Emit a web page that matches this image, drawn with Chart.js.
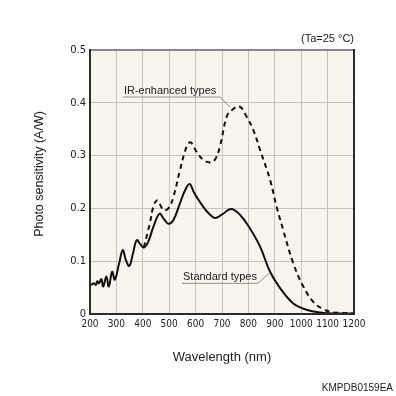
<!DOCTYPE html>
<html>
<head>
<meta charset="utf-8">
<script src="https://cdn.jsdelivr.net/npm/chart.js@4.4.1/dist/chart.umd.min.js"></script>
<style>
  html, body { margin: 0; padding: 0; background: #fff; }
  canvas { display: block; }
</style>
</head>
<body>
<canvas id="sensitivity" width="396" height="396"></canvas>
<script>
// Standard types (solid)
const standardWavelengths = [200, 210, 216, 222, 228, 234, 243, 250, 262, 271, 284, 294, 310, 324, 336, 349, 363, 377, 391, 404, 420, 440, 463, 480, 497, 516, 541, 558, 577, 592, 606, 629, 651, 673, 699, 734, 768, 806, 844, 882, 920, 970, 1021, 1084, 1140, 1200];
const standardValues = [0.054, 0.057, 0.058, 0.055, 0.062, 0.058, 0.066, 0.052, 0.071, 0.052, 0.080, 0.065, 0.095, 0.121, 0.102, 0.091, 0.115, 0.140, 0.132, 0.126, 0.136, 0.165, 0.190, 0.180, 0.171, 0.178, 0.210, 0.232, 0.246, 0.232, 0.220, 0.203, 0.190, 0.182, 0.188, 0.199, 0.188, 0.162, 0.128, 0.080, 0.049, 0.020, 0.008, 0.002, 0.001, 0.001];

// IR-enhanced types (dashed)
const irWavelengths = [404, 427, 440, 455, 478, 497, 516, 541, 566, 581, 604, 629, 655, 673, 692, 718, 737, 766, 793, 819, 844, 882, 907, 932, 970, 1008, 1046, 1084, 1122, 1160, 1200];
const irValues = [0.126, 0.172, 0.203, 0.215, 0.197, 0.200, 0.222, 0.273, 0.317, 0.325, 0.307, 0.292, 0.287, 0.292, 0.317, 0.374, 0.386, 0.393, 0.374, 0.348, 0.311, 0.254, 0.203, 0.159, 0.096, 0.052, 0.023, 0.009, 0.003, 0.002, 0.001];

const xTicks = [200, 300, 400, 500, 600, 700, 800, 900, 1000, 1100, 1200];
const yTicks = [0, 0.1, 0.2, 0.3, 0.4, 0.5];

const colors = {
  plotBg: "#f7f5ec",
  grid: "#c4c4c4",
  frame: "#2b2b2b",
  frameTop: "#8a8a8a",
  line: "#111111",
  leader: "#777777",
  text: "#222222",
};

const toPoints = (xs, ys) => xs.map((x, i) => ({ x: x, y: ys[i] }));

// background, frame, labels and leader lines
const decorPlugin = {
  id: "decor",
  beforeDraw(chart) {
    const { ctx, chartArea: a } = chart;
    ctx.save();
    ctx.fillStyle = colors.plotBg;
    ctx.fillRect(a.left, a.top, a.right - a.left, a.bottom - a.top);
    ctx.restore();
  },
  afterDraw(chart) {
    const { ctx, chartArea: a, scales } = chart;
    ctx.save();

    // frame
    ctx.lineWidth = 2;
    ctx.strokeStyle = colors.frameTop;
    ctx.beginPath();
    ctx.moveTo(a.left, a.top);
    ctx.lineTo(a.right, a.top);
    ctx.stroke();
    ctx.strokeStyle = colors.frame;
    ctx.beginPath();
    ctx.moveTo(a.left, a.top - 1);
    ctx.lineTo(a.left, a.bottom);
    ctx.lineTo(a.right, a.bottom);
    ctx.lineTo(a.right, a.top - 1);
    ctx.stroke();

    ctx.fillStyle = colors.text;
    ctx.font = "11px 'Liberation Sans', Arial, sans-serif";
    ctx.textBaseline = "alphabetic";

    // IR-enhanced label
    let ex = scales.x.getPixelForValue(730);
    let ey = scales.y.getPixelForValue(0.392);
    ctx.textAlign = "left";
    ctx.fillText("IR-enhanced types", ex - 106, ey - 13);
    ctx.strokeStyle = colors.leader;
    ctx.lineWidth = 0.8;
    ctx.beginPath();
    ctx.moveTo(ex - 107, ey - 10);
    ctx.lineTo(ex - 10, ey - 10);
    ctx.lineTo(ex, ey);
    ctx.stroke();

    // Standard label
    ex = scales.x.getPixelForValue(878);
    ey = scales.y.getPixelForValue(0.077);
    ctx.fillText("Standard types", ex - 86, ey + 7);
    ctx.beginPath();
    ctx.moveTo(ex - 87, ey + 10);
    ctx.lineTo(ex - 11, ey + 10);
    ctx.lineTo(ex, ey);
    ctx.stroke();

    // condition note
    ctx.textAlign = "right";
    ctx.textBaseline = "middle";
    ctx.fillText("(Ta=25 °C)", a.right, 39);

    // axis titles
    ctx.textAlign = "center";
    ctx.font = "13px 'Liberation Sans', Arial, sans-serif";
    ctx.fillText("Wavelength (nm)", (a.left + a.right) / 2, 357);
    ctx.save();
    ctx.translate(40, 174);
    ctx.rotate(-Math.PI / 2);
    ctx.font = "12.5px 'Liberation Sans', Arial, sans-serif";
    ctx.fillText("Photo sensitivity (A/W)", 0, 0);
    ctx.restore();

    // code
    ctx.textAlign = "right";
    ctx.font = "10px 'Liberation Sans', Arial, sans-serif";
    ctx.fillText("KMPDB0159EA", 393, 388);

    ctx.restore();
  },
};

const tickFont = { family: "'Liberation Sans Narrow', 'DejaVu Sans Condensed', Arial, sans-serif", size: 10 };

new Chart(document.getElementById("sensitivity").getContext("2d"), {
  type: "line",
  data: {
    datasets: [
      {
        label: "Standard types",
        data: toPoints(standardWavelengths, standardValues),
        borderColor: colors.line,
        borderWidth: 2,
        pointRadius: 0,
        fill: false,
        tension: 0.4,
      },
      {
        label: "IR-enhanced types",
        data: toPoints(irWavelengths, irValues),
        borderColor: colors.line,
        borderWidth: 2,
        borderDash: [5, 4],
        pointRadius: 0,
        fill: false,
        tension: 0.4,
      },
    ],
  },
  options: {
    responsive: false,
    animation: false,
    layout: { padding: { left: 0, right: 42, top: 50, bottom: 0 } },
    plugins: {
      legend: { display: false },
      tooltip: { enabled: false },
    },
    scales: {
      x: {
        type: "linear",
        min: 200,
        max: 1200,
        afterFit: (s) => { s.height = 82; },
        afterBuildTicks: (s) => { s.ticks = xTicks.map((v) => ({ value: v })); },
        grid: { color: colors.grid, lineWidth: 1, drawTicks: false },
        border: { display: false },
        ticks: {
          color: colors.text,
          font: tickFont,
          padding: 4,
          maxRotation: 0,
          autoSkip: false,
          callback: (v) => String(v),
        },
      },
      y: {
        min: 0,
        max: 0.5,
        afterFit: (s) => { s.width = 90; },
        afterBuildTicks: (s) => { s.ticks = yTicks.map((v) => ({ value: v })); },
        grid: { color: colors.grid, lineWidth: 1, drawTicks: false },
        border: { display: false },
        ticks: {
          color: colors.text,
          font: { family: tickFont.family, size: 11 },
          padding: 4,
          callback: (v) => (v === 0 ? "0" : v.toFixed(1)),
        },
      },
    },
  },
  plugins: [decorPlugin],
});
</script>
</body>
</html>
